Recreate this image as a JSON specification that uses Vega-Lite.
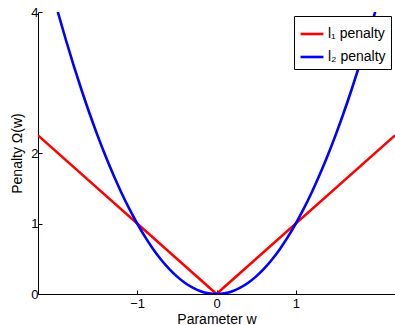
{
  "$schema": "https://vega.github.io/schema/vega-lite/v6.json",
  "width": 357,
  "height": 282,
  "autosize": {"type": "none"},
  "padding": {"left": 38, "top": 12, "right": 0, "bottom": 31},
  "background": "white",
  "config": {"view": {"stroke": null}, "font": "Liberation Sans"},
  "data": {"values": [
    {"w": -2.25, "p": 2.25, "s": "l₁ penalty"},
    {"w": 0, "p": 0, "s": "l₁ penalty"},
    {"w": 2.25, "p": 2.25, "s": "l₁ penalty"},
    {"w": -2.2, "p": 4.84, "s": "l₂ penalty"},
    {"w": -2.1, "p": 4.41, "s": "l₂ penalty"},
    {"w": -2.0, "p": 4.0, "s": "l₂ penalty"},
    {"w": -1.9, "p": 3.61, "s": "l₂ penalty"},
    {"w": -1.8, "p": 3.24, "s": "l₂ penalty"},
    {"w": -1.7, "p": 2.89, "s": "l₂ penalty"},
    {"w": -1.6, "p": 2.56, "s": "l₂ penalty"},
    {"w": -1.5, "p": 2.25, "s": "l₂ penalty"},
    {"w": -1.4, "p": 1.96, "s": "l₂ penalty"},
    {"w": -1.3, "p": 1.69, "s": "l₂ penalty"},
    {"w": -1.2, "p": 1.44, "s": "l₂ penalty"},
    {"w": -1.1, "p": 1.21, "s": "l₂ penalty"},
    {"w": -1.0, "p": 1.0, "s": "l₂ penalty"},
    {"w": -0.9, "p": 0.81, "s": "l₂ penalty"},
    {"w": -0.8, "p": 0.64, "s": "l₂ penalty"},
    {"w": -0.7, "p": 0.49, "s": "l₂ penalty"},
    {"w": -0.6, "p": 0.36, "s": "l₂ penalty"},
    {"w": -0.5, "p": 0.25, "s": "l₂ penalty"},
    {"w": -0.4, "p": 0.16, "s": "l₂ penalty"},
    {"w": -0.3, "p": 0.09, "s": "l₂ penalty"},
    {"w": -0.2, "p": 0.04, "s": "l₂ penalty"},
    {"w": -0.1, "p": 0.01, "s": "l₂ penalty"},
    {"w": 0.0, "p": 0.0, "s": "l₂ penalty"},
    {"w": 0.1, "p": 0.01, "s": "l₂ penalty"},
    {"w": 0.2, "p": 0.04, "s": "l₂ penalty"},
    {"w": 0.3, "p": 0.09, "s": "l₂ penalty"},
    {"w": 0.4, "p": 0.16, "s": "l₂ penalty"},
    {"w": 0.5, "p": 0.25, "s": "l₂ penalty"},
    {"w": 0.6, "p": 0.36, "s": "l₂ penalty"},
    {"w": 0.7, "p": 0.49, "s": "l₂ penalty"},
    {"w": 0.8, "p": 0.64, "s": "l₂ penalty"},
    {"w": 0.9, "p": 0.81, "s": "l₂ penalty"},
    {"w": 1.0, "p": 1.0, "s": "l₂ penalty"},
    {"w": 1.1, "p": 1.21, "s": "l₂ penalty"},
    {"w": 1.2, "p": 1.44, "s": "l₂ penalty"},
    {"w": 1.3, "p": 1.69, "s": "l₂ penalty"},
    {"w": 1.4, "p": 1.96, "s": "l₂ penalty"},
    {"w": 1.5, "p": 2.25, "s": "l₂ penalty"},
    {"w": 1.6, "p": 2.56, "s": "l₂ penalty"},
    {"w": 1.7, "p": 2.89, "s": "l₂ penalty"},
    {"w": 1.8, "p": 3.24, "s": "l₂ penalty"},
    {"w": 1.9, "p": 3.61, "s": "l₂ penalty"},
    {"w": 2.0, "p": 4.0, "s": "l₂ penalty"},
    {"w": 2.1, "p": 4.41, "s": "l₂ penalty"},
    {"w": 2.2, "p": 4.84, "s": "l₂ penalty"}
  ]},
  "encoding": {
    "x": {
      "field": "w", "type": "quantitative",
      "scale": {"domain": [-2.25, 2.25], "nice": false},
      "axis": {
        "title": "Parameter w", "values": [-1, 0, 1], "grid": false,
        "domainColor": "#000", "tickColor": "#000", "tickSize": -4,
        "labelPadding": 7, "labelFontSize": 13, "labelColor": "#000",
        "titleFontSize": 14, "titleFontWeight": "normal", "titleColor": "#000", "titlePadding": 2,
        "labelFont": "Liberation Sans", "titleFont": "Liberation Sans"
      }
    },
    "y": {
      "field": "p", "type": "quantitative",
      "scale": {"domain": [0, 4], "nice": false},
      "axis": {
        "title": "Penalty Ω(w)", "values": [0, 1, 2, 4], "grid": false,
        "domainColor": "#000", "tickColor": "#000", "tickSize": -4,
        "labelPadding": 4, "labelFontSize": 13, "labelColor": "#000",
        "titleFontSize": 14, "titleFontWeight": "normal", "titleColor": "#000", "titlePadding": 6,
        "labelFont": "Liberation Sans", "titleFont": "Liberation Sans"
      }
    },
    "color": {
      "field": "s", "type": "nominal",
      "scale": {"domain": ["l₁ penalty", "l₂ penalty"], "range": ["#ff0000", "#0000ff"]},
      "legend": {
        "title": null, "orient": "top-right", "offset": 4,
        "symbolType": "stroke", "symbolSize": 520, "symbolStrokeWidth": 2.6,
        "labelFontSize": 14, "labelColor": "#000", "labelFont": "Liberation Sans", "labelOffset": 3,
        "fillColor": "white", "strokeColor": "#000", "padding": 5, "rowPadding": 3,
        "cornerRadius": 0
      }
    }
  },
  "layer": [
    {
      "transform": [{"filter": "datum.s === 'l₁ penalty'"}],
      "mark": {"type": "line", "clip": true, "strokeWidth": 2.6, "interpolate": "linear"}
    },
    {
      "transform": [{"filter": "datum.s === 'l₂ penalty'"}],
      "mark": {"type": "line", "clip": true, "strokeWidth": 2.6, "interpolate": "monotone"}
    }
  ]
}
